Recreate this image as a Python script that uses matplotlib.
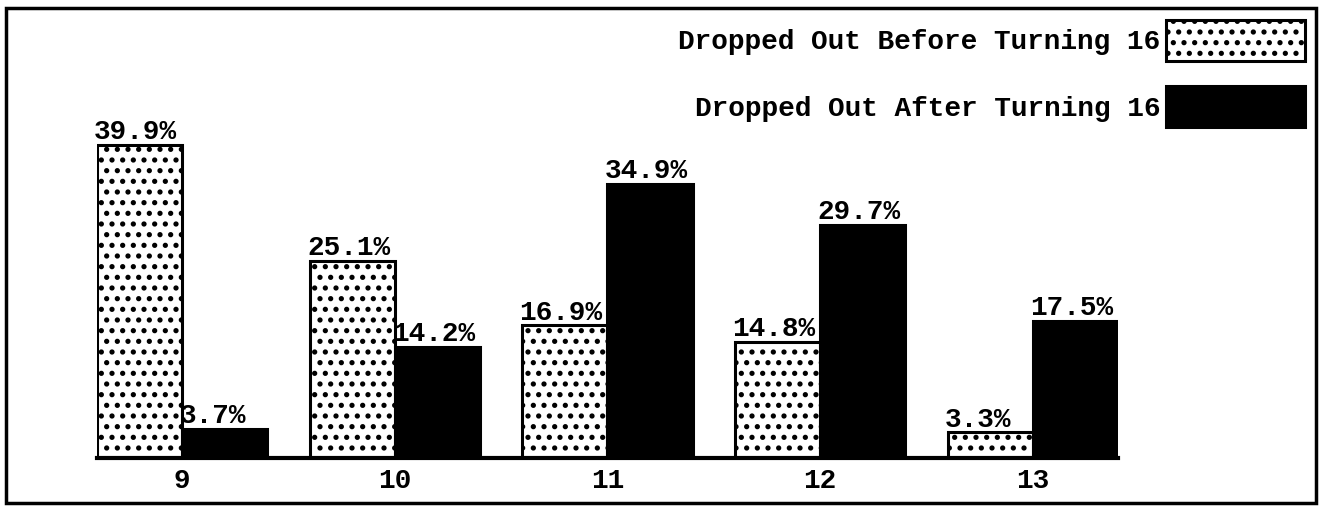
import matplotlib
matplotlib.use("Agg")
import matplotlib.pyplot as plt
from matplotlib.patches import Rectangle, Patch
import numpy as np

# Data
grades = ["9", "10", "11", "12", "13"]
before_16 = [39.9, 25.1, 16.9, 14.8, 3.3]
after_16 = [3.7, 14.2, 34.9, 29.7, 17.5]
series_names = ["Dropped Out Before Turning 16", "Dropped Out After Turning 16"]

# a higher dpi makes the dot hatch coarser, so sizes in points are scaled by K
DPI = 128
K = 100 / DPI

plt.rcParams["font.family"] = ["Liberation Mono", "DejaVu Sans Mono"]
plt.rcParams["font.weight"] = "bold"
plt.rcParams["hatch.linewidth"] = 2.2 * K
plt.rcParams["hatch.color"] = "black"

fs = 20 * K
lw = 2.2 * K

fig = plt.figure(figsize=(1323 / DPI, 506 / DPI), dpi=DPI)
ax = fig.add_axes([0.0733, 0.0949, 0.7717, 0.826])

x = np.arange(len(grades))
width = 0.4
bars_before = ax.bar(x - width / 2, before_16, width, color="white", edgecolor="black",
                     linewidth=lw, hatch="..", label=series_names[0])
bars_after = ax.bar(x + width / 2, after_16, width, color="black", edgecolor="black",
                    linewidth=lw, label=series_names[1])

# value labels sit on the left edge of each bar
for bars, vals in [(bars_before, before_16), (bars_after, after_16)]:
    for b, v in zip(bars, vals):
        ax.annotate(f"{v}%", xy=(b.get_x(), b.get_height()), xytext=(-2 * K, 4 * K),
                    textcoords="offset points", ha="left", va="baseline", fontsize=fs)

ax.set_xlim(-0.4, 4.4)
ax.set_ylim(0, 53.25)
ax.set_xticks(x)
ax.set_xticklabels(grades, fontsize=fs)
ax.tick_params(axis="x", length=0, pad=7 * K)
ax.set_yticks([])
for side in ["top", "right", "left"]:
    ax.spines[side].set_visible(False)
ax.spines["bottom"].set_linewidth(3 * K)

handles = [Patch(facecolor="white", edgecolor="black", hatch="..", linewidth=lw),
           Patch(facecolor="black", edgecolor="black", linewidth=lw)]
fig.legend(handles, series_names, loc="upper right", bbox_to_anchor=(0.9864, 0.9605),
           bbox_transform=fig.transFigure, frameon=False, markerfirst=False,
           fontsize=fs, handlelength=5.0, handleheight=1.9, handletextpad=0.2,
           labelspacing=0.9, borderpad=0, borderaxespad=0)

# outer frame around the whole figure
fig.patches.append(Rectangle((0.0045, 0.006), 0.9902, 0.978, transform=fig.transFigure,
                             fill=False, edgecolor="black", linewidth=2.5 * K))

fig.savefig("out.png", dpi=DPI)
